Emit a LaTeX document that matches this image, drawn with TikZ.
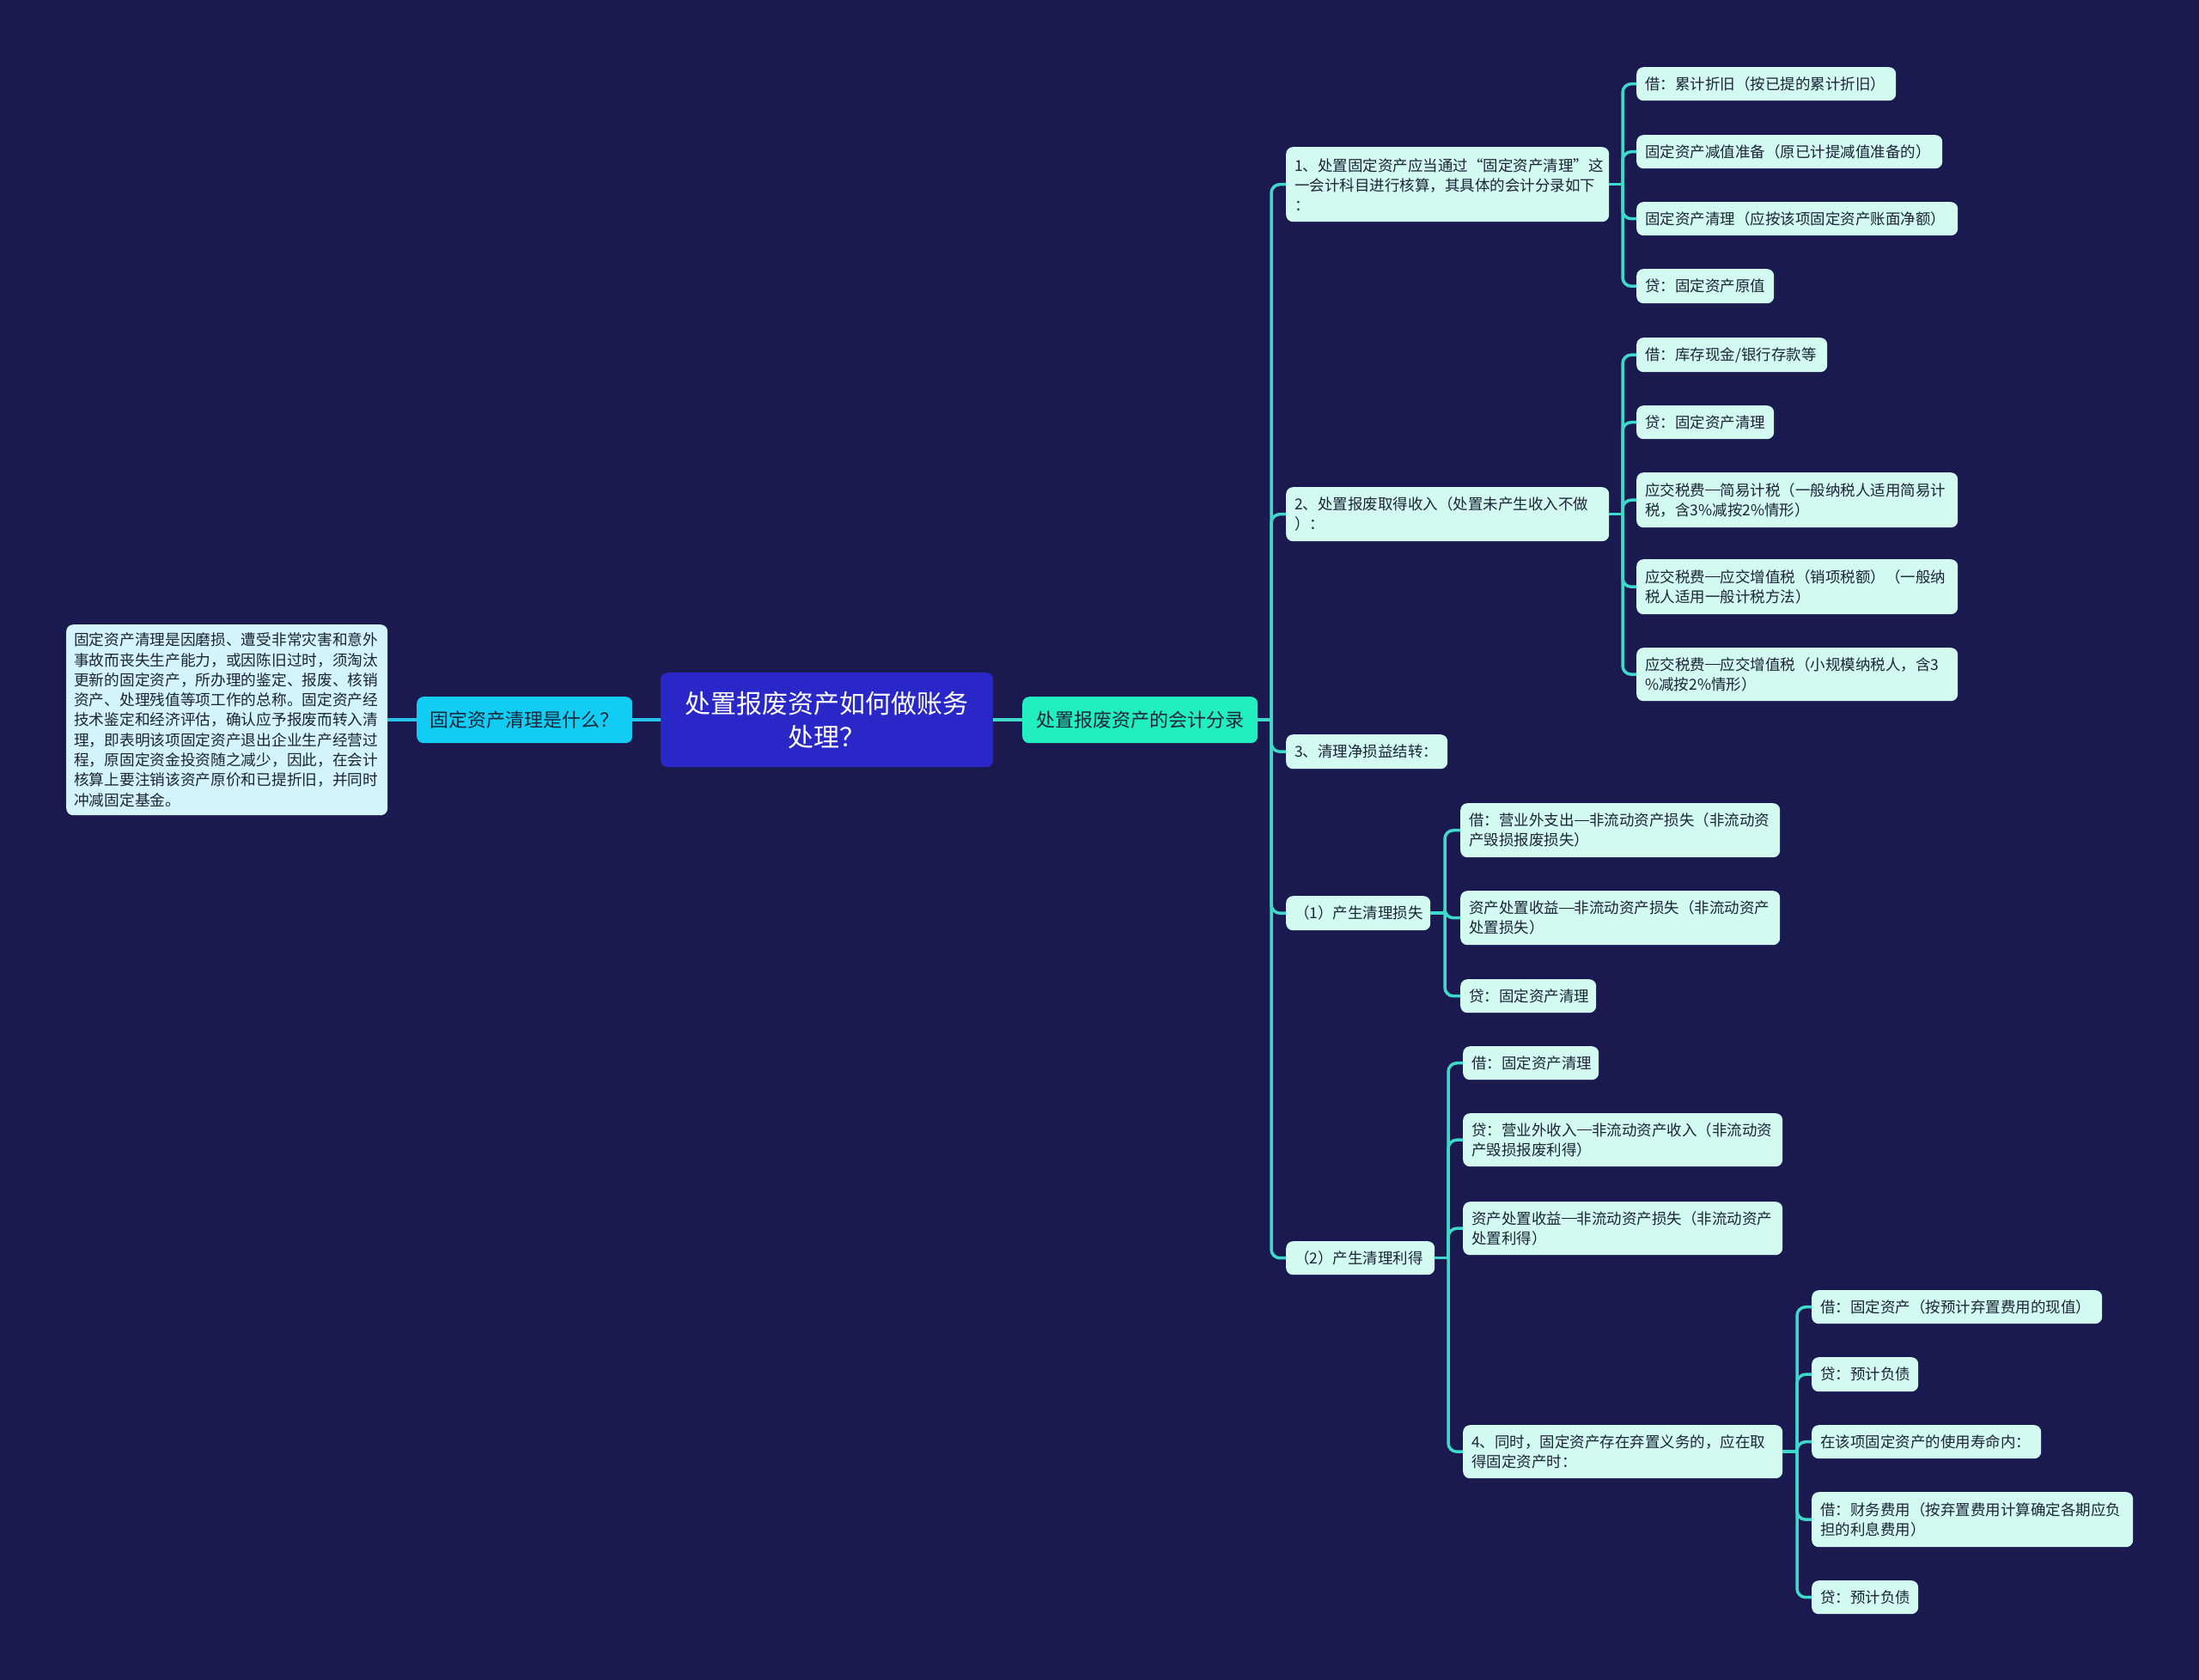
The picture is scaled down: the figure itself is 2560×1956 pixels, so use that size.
\documentclass[tikz,border=0pt]{standalone}
\usepackage{fontspec}
\setmainfont{Noto Sans CJK SC}
\newcommand\cjkdash{\makebox[1em][c]{\rule[0.34em]{0.98em}{0.065em}}}
\definecolor{bgc}{HTML}{1B1A50}
\definecolor{rootc}{HTML}{2A27C8}
\definecolor{cyanc}{HTML}{12CDF3}
\definecolor{greenc}{HTML}{22EFC0}
\definecolor{leafc}{HTML}{D2FAF0}
\definecolor{leftc}{HTML}{D4F4FB}
\definecolor{txtc}{HTML}{1B2438}
\definecolor{connR}{HTML}{3DD9C9}
\definecolor{connL}{HTML}{29C4EC}
\tikzset{
  box/.style={rounded corners=8pt, inner xsep=10pt, inner ysep=0pt, align=left, anchor=north west, font=\fontsize{17.5}{23}\selectfont, text=txtc},
  leaf/.style={box, fill=leafc},
  leftbox/.style={box, fill=leftc, inner xsep=9pt, font=\fontsize{17.7}{23.3}\selectfont},
  midbox/.style={rounded corners=8pt, inner sep=0pt, align=center, anchor=north west, font=\fontsize{22}{28}\selectfont, text=txtc},
  rootbox/.style={rounded corners=8pt, inner sep=0pt, align=center, anchor=north west, fill=rootc, text=white, font=\fontsize{30}{39}\selectfont},
  connr/.style={draw=connR, line width=3.5pt},
  connl/.style={draw=connL, line width=3.5pt},
}
\begin{document}
\begin{tikzpicture}[x=1pt,y=-1pt]
\fill[bgc] (0,0) rectangle (2560,1956);
\useasboundingbox (0,0) rectangle (2560,1956);

% left side
\node[leftbox, text width=356pt, minimum height=222pt] (L) at (77,727) {固定资产清理是因磨损、遭受非常灾害和意外\\事故而丧失生产能力，或因陈旧过时，须淘汰\\更新的固定资产，所办理的鉴定、报废、核销\\资产、处理残值等项工作的总称。固定资产经\\技术鉴定和经济评估，确认应予报废而转入清\\理，即表明该项固定资产退出企业生产经营过\\程，原固定资金投资随之减少，因此，在会计\\核算上要注销该资产原价和已提折旧，并同时\\冲减固定基金。};
\node[midbox, fill=cyanc, minimum width=251pt, minimum height=54pt] (Q) at (485,811) {固定资产清理是什么？};
\node[rootbox, minimum width=387pt, minimum height=110pt] (R) at (769,783) {处置报废资产如何做账务\\处理？};
\node[midbox, fill=greenc, minimum width=274pt, minimum height=54pt] (G) at (1190,811) {处置报废资产的会计分录};

% level 2
\node[leaf, text width=356pt, minimum height=87pt] (n1) at (1497,171) {1、处置固定资产应当通过“固定资产清理”这\\一会计科目进行核算，其具体的会计分录如下\\：};
\node[leaf, text width=356pt, minimum height=63pt] (n2) at (1497,567) {2、处置报废取得收入（处置未产生收入不做\\）：};
\node[leaf, text width=168pt, minimum height=40pt] (n3) at (1497,855) {3、清理净损益结转：};
\node[leaf, text width=148pt, minimum height=40pt] (n4) at (1497,1043) {（1）产生清理损失};
\node[leaf, text width=153pt, minimum height=39pt] (n5) at (1497,1445) {（2）产生清理利得};

% n1 children
\node[leaf, text width=282pt, minimum height=39pt] (a1) at (1905,78) {借：累计折旧（按已提的累计折旧）};
\node[leaf, text width=336pt, minimum height=39pt] (a2) at (1905,157) {固定资产减值准备（原已计提减值准备的）};
\node[leaf, text width=354pt, minimum height=39pt] (a3) at (1905,235) {固定资产清理（应按该项固定资产账面净额）};
\node[leaf, text width=140pt, minimum height=40pt] (a4) at (1905,313) {贷：固定资产原值};

% n2 children
\node[leaf, text width=202pt, minimum height=40pt] (b1) at (1905,393) {借：库存现金/银行存款等};
\node[leaf, text width=140pt, minimum height=39pt] (b2) at (1905,472) {贷：固定资产清理};
\node[leaf, text width=354pt, minimum height=64pt] (b3) at (1905,550) {应交税费\cjkdash 简易计税（一般纳税人适用简易计\\税，含3\%减按2\%情形）};
\node[leaf, text width=354pt, minimum height=64pt] (b4) at (1905,651) {应交税费\cjkdash 应交增值税（销项税额）（一般纳\\税人适用一般计税方法）};
\node[leaf, text width=354pt, minimum height=62pt] (b5) at (1905,754) {应交税费\cjkdash 应交增值税（小规模纳税人，含3\\\%减按2\%情形）};

% n4 children
\node[leaf, text width=352pt, minimum height=63pt] (c1) at (1700,935) {借：营业外支出\cjkdash 非流动资产损失（非流动资\\产毁损报废损失）};
\node[leaf, text width=352pt, minimum height=63pt] (c2) at (1700,1037) {资产处置收益\cjkdash 非流动资产损失（非流动资产\\处置损失）};
\node[leaf, text width=138pt, minimum height=39pt] (c3) at (1700,1140) {贷：固定资产清理};

% n5 children
\node[leaf, text width=138pt, minimum height=39pt] (d1) at (1703,1218) {借：固定资产清理};
\node[leaf, text width=352pt, minimum height=62pt] (d2) at (1703,1296) {贷：营业外收入\cjkdash 非流动资产收入（非流动资\\产毁损报废利得）};
\node[leaf, text width=352pt, minimum height=62pt] (d3) at (1703,1399) {资产处置收益\cjkdash 非流动资产损失（非流动资产\\处置利得）};
\node[leaf, text width=352pt, minimum height=62pt] (d4) at (1703,1659) {4、同时，固定资产存在弃置义务的，应在取\\得固定资产时：};

% d4 children
\node[leaf, text width=318pt, minimum height=39pt] (e1) at (2109,1502) {借：固定资产（按预计弃置费用的现值）};
\node[leaf, text width=104pt, minimum height=40pt] (e2) at (2109,1580) {贷：预计负债};
\node[leaf, text width=247pt, minimum height=39pt] (e3) at (2109,1659) {在该项固定资产的使用寿命内：};
\node[leaf, text width=354pt, minimum height=64pt] (e4) at (2109,1737) {借：财务费用（按弃置费用计算确定各期应负\\担的利息费用）};
\node[leaf, text width=104pt, minimum height=39pt] (e5) at (2109,1840) {贷：预计负债};

% trunk coordinates
\coordinate (tG) at (1480,0);
\coordinate (tA) at (1889,0);
\coordinate (t4) at (1682,0);
\coordinate (t5) at (1686,0);
\coordinate (tE) at (2092,0);

% connectors
\draw[connl] (L.east) -- (Q.west);
\draw[connl] (Q.east) -- (R.west);
\draw[connr] (R.east) -- (G.west);

\draw[connr] (G.east) -- (G.east -| tG);
\foreach \c in {n1,n2,n3,n4,n5}
  \draw[connr, rounded corners=10pt] (G.east -| tG) |- (\c.west);

\draw[connr] (n1.east) -- (n1.east -| tA);
\foreach \c in {a1,a2,a3,a4}
  \draw[connr, rounded corners=10pt] (n1.east -| tA) |- (\c.west);

\draw[connr] (n2.east) -- (n2.east -| tA);
\foreach \c in {b1,b2,b3,b4,b5}
  \draw[connr, rounded corners=10pt] (n2.east -| tA) |- (\c.west);

\draw[connr] (n4.east) -- (n4.east -| t4);
\foreach \c in {c1,c2,c3}
  \draw[connr, rounded corners=10pt] (n4.east -| t4) |- (\c.west);

\draw[connr] (n5.east) -- (n5.east -| t5);
\foreach \c in {d1,d2,d3,d4}
  \draw[connr, rounded corners=10pt] (n5.east -| t5) |- (\c.west);

\draw[connr] (d4.east) -- (d4.east -| tE);
\foreach \c in {e1,e2,e3,e4,e5}
  \draw[connr, rounded corners=10pt] (d4.east -| tE) |- (\c.west);
\end{tikzpicture}
\end{document}
